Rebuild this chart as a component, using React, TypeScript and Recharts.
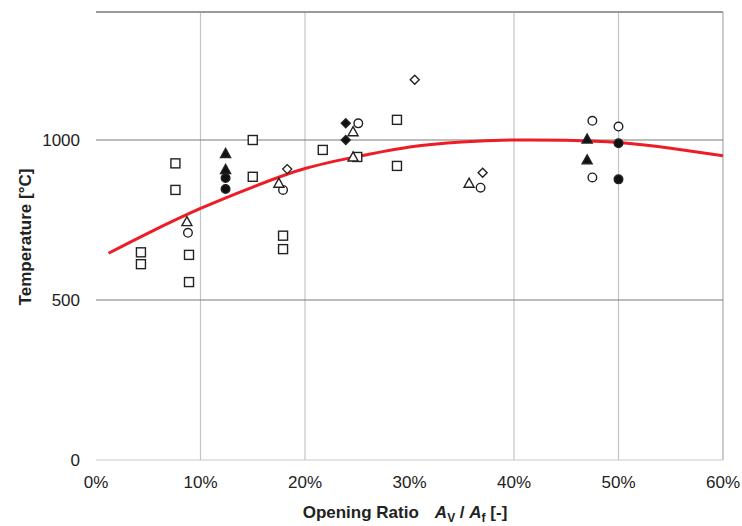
import {
  ComposedChart,
  Scatter,
  Line,
  XAxis,
  YAxis,
  ReferenceLine,
} from "recharts";

// opening ratio (%) / temperature (°C) per marker style
const openSquareX = [4.3, 4.3, 8.9, 8.9, 7.6, 7.6, 15.0, 15.0, 17.9, 17.9, 21.7, 25.0, 28.8, 28.8];
const openSquareT = [649, 612, 641, 556, 927, 844, 1000, 885, 701, 659, 969, 947, 1063, 919];

const openCircleX = [8.8, 17.9, 25.1, 36.8, 47.5, 47.5, 50.0];
const openCircleT = [710, 844, 1052, 851, 883, 1060, 1042];

const openTriangleX = [8.7, 17.5, 24.6, 24.6, 35.7];
const openTriangleT = [745, 865, 1026, 947, 865];

const openDiamondX = [18.3, 30.5, 37.0];
const openDiamondT = [909, 1188, 898];

const filledDiamondX = [23.9, 23.9];
const filledDiamondT = [1052, 1000];

const filledTriangleX = [12.4, 12.4, 47.0, 47.0];
const filledTriangleT = [958, 908, 1003, 938];

const filledCircleX = [12.4, 12.4, 50.0, 50.0];
const filledCircleT = [881, 847, 990, 877];

// fitted curve
const curveX = [1.2, 5, 10, 15, 20, 25, 30, 35, 40, 45, 50, 55, 60];
const curveT = [646, 709, 786, 853, 911, 948, 978, 994, 1000, 999, 992, 974, 951];

const xTicks = [0, 10, 20, 30, 40, 50, 60];
const yTicks = [0, 500, 1000];
const xGrid = [10, 20, 40, 50];

const FONT = "'Liberation Sans', Arial, sans-serif";
const INK = "#222";

const pts = (xs: number[], ts: number[]) => xs.map((x, i) => ({ x, t: ts[i] }));

function marker(kind: string, filled: boolean) {
  return (props: any) => {
    const { cx, cy } = props;
    const fill = filled ? "#111" : "#fff";
    const sw = 1.4;
    if (kind === "square")
      return <rect x={cx - 4.5} y={cy - 4.5} width={9} height={9} fill={fill} stroke={INK} strokeWidth={sw} />;
    if (kind === "circle") return <circle cx={cx} cy={cy} r={4.3} fill={fill} stroke={INK} strokeWidth={sw} />;
    if (kind === "triangle")
      return (
        <polygon
          points={`${cx},${cy - 5} ${cx + 5},${cy + 4} ${cx - 5},${cy + 4}`}
          fill={fill}
          stroke={INK}
          strokeWidth={sw}
        />
      );
    return (
      <polygon
        points={`${cx},${cy - 4.5} ${cx + 4.5},${cy} ${cx},${cy + 4.5} ${cx - 4.5},${cy}`}
        fill={fill}
        stroke={INK}
        strokeWidth={sw}
      />
    );
  };
}

const XTitle = () => (
  <text x={405} y={518} textAnchor="middle" fontFamily={FONT} fontSize={17} fontWeight="bold" fill={INK}>
    <tspan>Opening Ratio</tspan>
    <tspan dx={16} fontStyle="italic">A</tspan>
    <tspan fontSize={12} dy={4}>V</tspan>
    <tspan dy={-4}> / </tspan>
    <tspan fontStyle="italic">A</tspan>
    <tspan fontSize={12} dy={4}>f</tspan>
    <tspan dy={-4}> [-]</tspan>
  </text>
);

const YTitle = () => (
  <text
    x={25}
    y={237}
    transform="rotate(-90, 25, 237)"
    textAnchor="middle"
    dominantBaseline="central"
    fontFamily={FONT}
    fontSize={17}
    fontWeight="bold"
    fill={INK}
  >
    Temperature [°C]
  </text>
);

export default function App() {
  const series = [
    { name: "openSquare", data: pts(openSquareX, openSquareT), shape: marker("square", false) },
    { name: "openCircle", data: pts(openCircleX, openCircleT), shape: marker("circle", false) },
    { name: "openTriangle", data: pts(openTriangleX, openTriangleT), shape: marker("triangle", false) },
    { name: "openDiamond", data: pts(openDiamondX, openDiamondT), shape: marker("diamond", false) },
    { name: "filledDiamond", data: pts(filledDiamondX, filledDiamondT), shape: marker("diamond", true) },
    { name: "filledTriangle", data: pts(filledTriangleX, filledTriangleT), shape: marker("triangle", true) },
    { name: "filledCircle", data: pts(filledCircleX, filledCircleT), shape: marker("circle", true) },
  ];

  return (
    <div style={{ position: "absolute", left: 0, top: 0, background: "#fff" }}>
      <ComposedChart width={742} height={526} margin={{ top: 12, right: 19, bottom: 26, left: 40 }}>
        <XAxis
          type="number"
          dataKey="x"
          domain={[0, 60]}
          ticks={xTicks}
          tickFormatter={(v) => `${v}%`}
          tickSize={0}
          tickMargin={16}
          axisLine={{ stroke: "#c8c8c8" }}
          tick={{ fontFamily: FONT, fontSize: 17, fill: INK }}
          height={40}
          label={<XTitle />}
        />
        <YAxis
          type="number"
          dataKey="t"
          domain={[0, 1400]}
          ticks={yTicks}
          tickSize={0}
          tickMargin={16}
          axisLine={false}
          tick={{ fontFamily: FONT, fontSize: 17, fill: INK }}
          width={56}
          label={<YTitle />}
        />
        {xGrid.map((v) => (
          <ReferenceLine key={`x${v}`} x={v} stroke="#c4c4c4" strokeWidth={1.2} />
        ))}
        <ReferenceLine x={60} stroke="#a8a8a8" strokeWidth={1.2} />
        <ReferenceLine y={500} stroke="#7a7a7a" strokeWidth={1.2} />
        <ReferenceLine y={1000} stroke="#7a7a7a" strokeWidth={1.2} />
        <ReferenceLine y={1400} stroke="#9a9a9a" strokeWidth={2} />
        <Line
          data={pts(curveX, curveT)}
          dataKey="t"
          type="natural"
          stroke="#ee1c25"
          strokeWidth={3}
          dot={false}
          isAnimationActive={false}
        />
        {series.map((s) => (
          <Scatter key={s.name} name={s.name} data={s.data} dataKey="t" shape={s.shape} isAnimationActive={false} />
        ))}
      </ComposedChart>
    </div>
  );
}
